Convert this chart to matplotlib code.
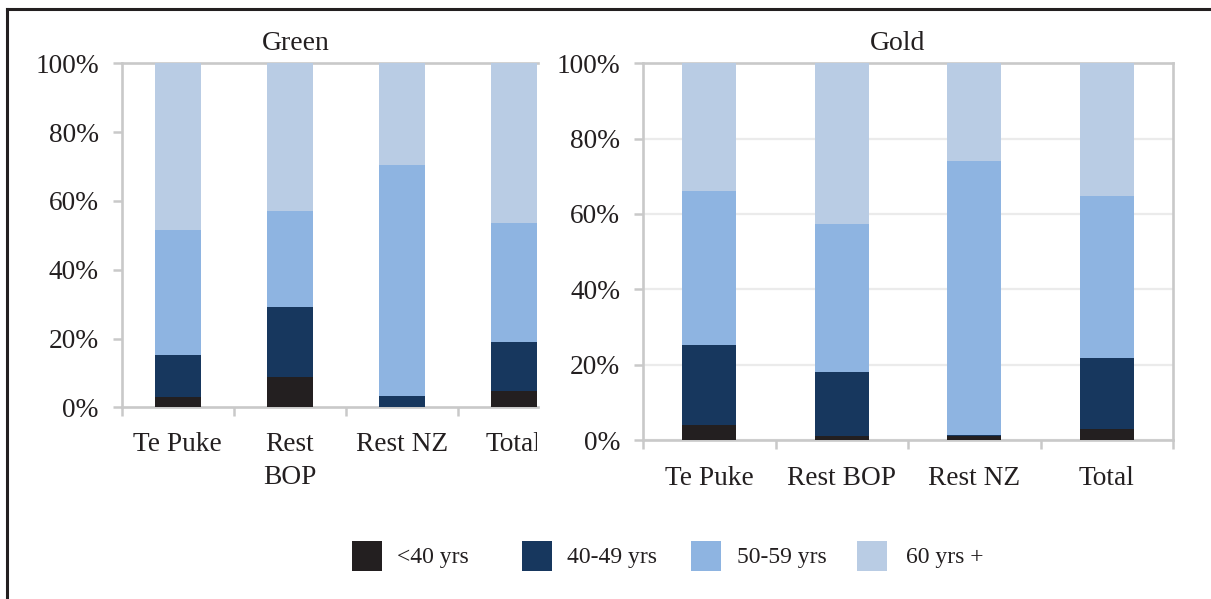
import matplotlib
matplotlib.use("Agg")
import matplotlib.pyplot as plt
import numpy as np
from matplotlib.patches import Rectangle
from matplotlib.lines import Line2D
from matplotlib.transforms import Bbox, TransformedBbox
from matplotlib.ticker import FixedLocator

# ---- data (percent) ----
categories = ["Te Puke", "Rest BOP", "Rest NZ", "Total"]
green_labels = ["Te Puke", "Rest\nBOP", "Rest NZ", "Total"]
series_names = ["<40 yrs", "40-49 yrs", "50-59 yrs", "60 yrs +"]

green_lt40 = [2.9, 8.7, 0.0, 4.7]
green_40_49 = [12.4, 20.6, 3.4, 14.2]
green_50_59 = [36.1, 27.9, 67.1, 34.6]
green_60plus = [48.6, 42.8, 29.5, 46.5]

gold_lt40 = [4.0, 1.1, 1.0, 2.9]
gold_40_49 = [21.1, 16.9, 0.3, 18.9]
gold_50_59 = [40.9, 39.3, 72.8, 43.0]
gold_60plus = [34.0, 42.7, 25.9, 35.2]

yticks = [0, 20, 40, 60, 80, 100]
ytick_labels = ["0%", "20%", "40%", "60%", "80%", "100%"]

colors = ["#231F20", "#17375E", "#8EB4E1", "#B9CCE4"]
grey = "#C9C9C9"
txt = "#231F20"

plt.rcParams["font.family"] = ["Liberation Serif", "DejaVu Serif"]

W, H = 1211, 599
fig = plt.figure(figsize=(W / 100, H / 100), dpi=100)


def fx(px):
    return px / W


def fy(py):
    return 1 - py / H


def draw_panel(ax, series, labels, xmax, grid, xpad):
    x = np.arange(len(categories))
    bottom = np.zeros(len(categories))
    for vals, c in zip(series, colors):
        vals = np.array(vals, dtype=float)
        ax.bar(x, vals, width=0.41, bottom=bottom, color=c, edgecolor="none", zorder=3)
        bottom += vals
    ax.set_xlim(-0.5, xmax)
    ax.set_ylim(0, 100)
    ax.set_yticks(yticks)
    ax.set_yticklabels(ytick_labels, fontsize=19.7, color=txt)
    ax.set_xticks(x)
    ax.set_xticklabels(labels, fontsize=19.7, color=txt, linespacing=1.4)
    ax.xaxis.set_minor_locator(FixedLocator([-0.5, 0.5, 1.5, 2.5, 3.5]))
    ax.tick_params(axis="x", which="major", length=0, pad=xpad)
    ax.tick_params(axis="x", which="minor", length=6.5, width=1.8, color=grey, direction="out")
    ax.tick_params(axis="y", which="major", length=6.5, width=1.8, color=grey, direction="out", pad=10)
    for s in ax.spines.values():
        s.set_color(grey)
        s.set_linewidth(1.9)
    if grid:
        ax.yaxis.grid(True, color="#EBEBEB", linewidth=1.6, zorder=0)
        ax.set_axisbelow(True)


# left panel (Green)
axL = fig.add_axes([fx(121.7), fy(407.3), fx(537.5) - fx(121.7), fy(63.3) - fy(407.3)])
draw_panel(axL, [green_lt40, green_40_49, green_50_59, green_60plus], green_labels, 3.21, False, 18)
axL.spines["right"].set_visible(False)
clip = TransformedBbox(Bbox([[0, 0], [fx(537), 1]]), fig.transFigure)
for lab in axL.get_xticklabels():
    lab.set_clip_box(clip)
    lab.set_clip_on(True)

# right panel (Gold)
axR = fig.add_axes([fx(643), fy(440), fx(1173) - fx(643), fy(63.3) - fy(440)])
draw_panel(axR, [gold_lt40, gold_40_49, gold_50_59, gold_60plus], categories, 3.5, True, 18.5)

# titles
fig.text(fx(296), fy(44), "Green", ha="center", va="center", fontsize=20, color=txt)
fig.text(fx(898), fy(44), "Gold", ha="center", va="center", fontsize=20, color=txt)

# legend (manual)
sq_x = [352, 522, 691, 857]
tx_x = [397, 567, 737, 906]
for name, c, sx, tx in zip(series_names, colors, sq_x, tx_x):
    fig.patches.append(Rectangle((fx(sx), fy(571)), fx(30), 30 / H, transform=fig.transFigure,
                                 facecolor=c, edgecolor="none"))
    fig.text(fx(tx), fy(557), name, ha="left", va="center", fontsize=17, color=txt)

# outer frame lines (top and left)
fig.add_artist(Line2D([fx(6.5), 1], [fy(8.7), fy(8.7)], transform=fig.transFigure, color="#231F20", lw=2.2))
fig.add_artist(Line2D([fx(6.5), fx(6.5)], [fy(8.7), 0], transform=fig.transFigure, color="#231F20", lw=2.2))

fig.savefig("out.png", dpi=100)
